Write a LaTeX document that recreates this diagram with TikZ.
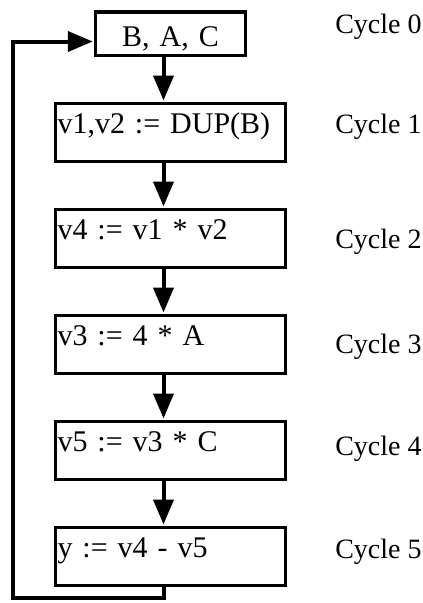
\documentclass[tikz,border=0pt]{standalone}
\usepackage{fontspec}
\setmainfont{Liberation Serif}
\usetikzlibrary{arrows.meta,positioning}

\begin{document}
\begin{tikzpicture}[x=1pt,y=-1pt,>={Triangle[length=25pt,width=20pt]},shorten >=1pt,node distance=44.5pt,
    stage/.style={draw,line width=3.5pt,inner sep=0pt,inner xsep=2pt,text width=226pt,align=left,
      text height=30.25pt,text depth=27.75pt,font=\fontsize{30}{30}\selectfont},
    cycle/.style={anchor=base west,font=\fontsize{28}{28}\selectfont},
    link/.style={->,line width=4pt}]
      \useasboundingbox (0,0) rectangle (423,603);

      \node[stage,text width=146pt,align=center,text height=34.25pt,text depth=9.25pt] (s0) at (170.5,33.5) {B, A, C};
      \node[stage] (s1) [below=of s0] {v1,v2 := DUP(B)};
      \node[stage] (s2) [below=of s1] {v4 := v1 * v2};
      \node[stage] (s3) [below=of s2] {v3 := 4 * A};
      \node[stage] (s4) [below=of s3] {v5 := v3 * C};
      \node[stage] (s5) [below=of s4] {y := v4 - v5};

      \node[cycle] (c0) at ([xshift=44.5pt,yshift=0.5pt]s1.east |- s0.east) {Cycle 0};
      \node[cycle] (c1) at ([xshift=44.5pt,yshift=-0.75pt]s1.east) {Cycle 1};
      \node[cycle] (c2) at ([xshift=44.5pt,yshift=-9.75pt]s2.east) {Cycle 2};
      \node[cycle] (c3) at ([xshift=44.5pt,yshift=-8.75pt]s3.east) {Cycle 3};
      \node[cycle] (c4) at ([xshift=44.5pt,yshift=-4.75pt]s4.east) {Cycle 4};
      \node[cycle] (c5) at ([xshift=44.5pt,yshift=-1.75pt]s5.east) {Cycle 5};

      \coordinate (back) at (13,598);

      \path[link]
      ([xshift=-7pt]s0.south) edge ([xshift=-7pt]s1.north)
      ([xshift=-7pt]s1.south) edge ([xshift=-7pt]s2.north)
      ([xshift=-7pt]s2.south) edge ([xshift=-7pt]s3.north)
      ([xshift=-7pt]s3.south) edge ([xshift=-7pt]s4.north)
      ([xshift=-7pt]s4.south) edge ([xshift=-7pt]s5.north)
      ;
      \draw[link] ([xshift=-7pt]s5.south) |- (back) |- ([yshift=-8pt]s0.west);
    \end{tikzpicture}
\end{document}
